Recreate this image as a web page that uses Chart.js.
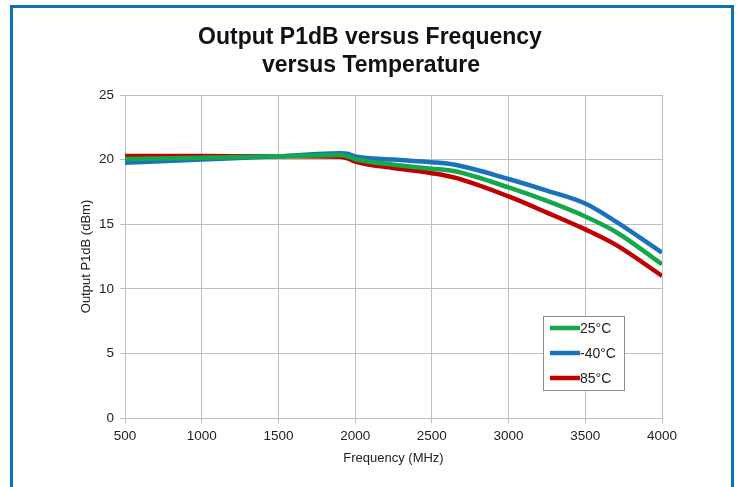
<!DOCTYPE html>
<html>
<head>
<meta charset="utf-8">
<script src="https://cdn.jsdelivr.net/npm/chart.js@4.4.0/dist/chart.umd.min.js"></script>
<style>
html,body{margin:0;padding:0;background:#fff;}
#wrap{position:relative;width:739px;height:487px;}
</style>
</head>
<body>
<div id="wrap"><canvas id="c" width="739" height="487"></canvas></div>
<script>
const titleLines = ["Output P1dB versus Frequency", "versus Temperature"];
const xTitle = "Frequency (MHz)";
const yTitle = "Output P1dB (dBm)";
const seriesLabels = ["25°C", "-40°C", "85°C"];
const seriesColors = ["#13a84a", "#1a72bd", "#c00000"];
const freq = [500, 1000, 1500, 1900, 1950, 2000, 2250, 2500, 2650, 3000, 3250, 3500, 3700, 4000];
const p25 = [20.05, 20.15, 20.25, 20.35, 20.25, 20.05, 19.6, 19.3, 19.1, 17.85, 16.8, 15.6, 14.4, 11.9];
const pm40 = [19.75, 20.0, 20.25, 20.5, 20.45, 20.25, 20.0, 19.8, 19.6, 18.5, 17.6, 16.6, 15.2, 12.8];
const p85 = [20.28, 20.27, 20.25, 20.22, 20.1, 19.85, 19.35, 18.95, 18.6, 17.15, 15.9, 14.6, 13.4, 11.0];
const xTicks = [500, 1000, 1500, 2000, 2500, 3000, 3500, 4000];
const yTicks = [0, 5, 10, 15, 20, 25];

const FONT = "'Liberation Sans', Arial, sans-serif";
const series = [p25, pm40, p85];
const datasets = series.map((s, i) => ({
  label: seriesLabels[i],
  data: freq.map((f, j) => ({x: f, y: s[j]})),
  borderColor: seriesColors[i],
  backgroundColor: seriesColors[i],
  borderWidth: 4.5,
  pointRadius: 0,
  cubicInterpolationMode: 'monotone',
  fill: false
}));

const framePlugin = {
  id: 'frame',
  beforeDraw(chart) {
    const ctx = chart.ctx;
    ctx.save();
    ctx.fillStyle = '#fff';
    ctx.fillRect(0, 0, chart.width, chart.height);
    ctx.fillStyle = '#0a72b4';
    ctx.fillRect(10, 5, 724, 3);
    ctx.fillRect(10, 5, 3, 482);
    ctx.fillRect(731, 5, 3, 482);
    ctx.fillStyle = '#111';
    ctx.font = 'bold 23px ' + FONT;
    ctx.textAlign = 'center';
    ctx.textBaseline = 'middle';
    ctx.fillText(titleLines[0], 370, 38);
    ctx.fillText(titleLines[1], 371, 66);
    ctx.restore();
  }
};

const legendPlugin = {
  id: 'boxLegend',
  afterDatasetsDraw(chart) {
    const ctx = chart.ctx;
    const bx = 543, by = 316, bw = 81, bh = 74;
    ctx.save();
    ctx.fillStyle = '#fff';
    ctx.fillRect(bx, by, bw, bh);
    ctx.strokeStyle = '#8c8c8c';
    ctx.lineWidth = 1;
    ctx.strokeRect(bx + 0.5, by + 0.5, bw, bh);
    ctx.font = '14px ' + FONT;
    ctx.textBaseline = 'middle';
    chart.data.datasets.forEach((ds, i) => {
      const y = by + 12 + i * 25;
      ctx.strokeStyle = ds.borderColor;
      ctx.lineWidth = 4.5;
      ctx.beginPath();
      ctx.moveTo(bx + 7, y);
      ctx.lineTo(bx + 37, y);
      ctx.stroke();
      ctx.fillStyle = '#222';
      ctx.fillText(ds.label, bx + 37, y + 1);
    });
    ctx.restore();
  }
};

new Chart(document.getElementById('c'), {
  type: 'line',
  data: {datasets},
  plugins: [framePlugin, legendPlugin],
  options: {
    responsive: false,
    animation: false,
    layout: {padding: {left: 79, right: 77, top: 95, bottom: 17}},
    plugins: {
      legend: {display: false},
      tooltip: {enabled: false},
      title: {display: false}
    },
    scales: {
      x: {
        type: 'linear',
        min: 500, max: 4000,
        afterBuildTicks: (s) => { s.ticks = xTicks.map(v => ({value: v})); },
        afterFit: (s) => { s.height = 52; },
        grid: {color: '#bfbfbf', lineWidth: 1, tickLength: 5, drawTicks: true},
        border: {color: '#bfbfbf'},
        ticks: {color: '#222', font: {family: FONT, size: 13.5}, padding: 5, maxRotation: 0,
                callback: (v) => String(v)},
        title: {display: true, text: xTitle, color: '#222', font: {family: FONT, size: 13}, padding: {top: 2}}
      },
      y: {
        min: 0, max: 25,
        afterBuildTicks: (s) => { s.ticks = yTicks.map(v => ({value: v})); },
        afterFit: (s) => { s.width = 46; },
        grid: {color: '#bfbfbf', lineWidth: 1, tickLength: 5, drawTicks: true},
        border: {color: '#bfbfbf'},
        ticks: {color: '#222', font: {family: FONT, size: 13.5}, padding: 6,
                callback: (v) => String(v)},
        title: {display: true, text: yTitle, color: '#222', font: {family: FONT, size: 13}, padding: {top: 0, bottom: 0}}
      }
    }
  }
});
</script>
</body>
</html>
